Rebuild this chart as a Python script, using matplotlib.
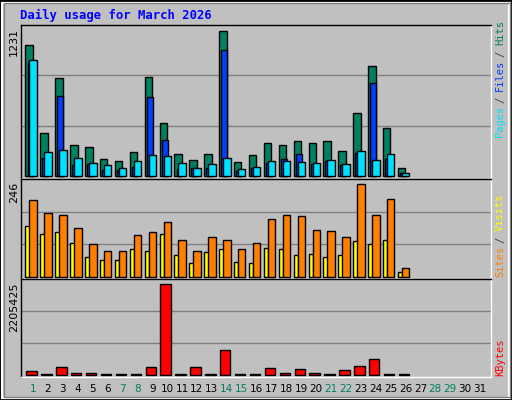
import matplotlib
matplotlib.use("Agg")
import matplotlib.pyplot as plt
from matplotlib.patches import Rectangle
import numpy as np

title = "Daily usage for March 2026"
days = list(range(1, 32))
weekend = [1, 7, 8, 14, 15, 21, 22, 28, 29]
hits = [1109, 363, 832, 263, 246, 146, 129, 204, 841, 447, 188, 137, 188, 1231, 121, 179, 280, 263, 296, 280, 296, 213, 539, 933, 405, 70]
files = [966, 154, 682, 95, 98, 54, 54, 79, 673, 305, 62, 70, 70, 1067, 45, 70, 112, 146, 188, 104, 129, 95, 196, 790, 146, 28]
pages = [983, 204, 221, 154, 112, 95, 70, 129, 179, 171, 112, 70, 104, 154, 62, 79, 129, 129, 121, 112, 137, 104, 213, 137, 188, 28]
visits = [203, 169, 163, 129, 86, 70, 70, 110, 118, 145, 97, 70, 105, 97, 73, 89, 153, 163, 161, 123, 121, 107, 246, 163, 206, 25]
sites = [134, 113, 118, 89, 52, 46, 44, 73, 68, 113, 57, 38, 65, 73, 41, 38, 78, 73, 57, 62, 54, 57, 94, 86, 97, 14]
kbytes = [104000, 30000, 200000, 56000, 56000, 30000, 30000, 30000, 200000, 2205425, 30000, 200000, 30000, 610000, 30000, 30000, 176000, 56000, 152000, 56000, 30000, 128000, 225000, 393000, 30000, 30000]

BG = '#c0c0c0'
W, H = 512, 400
fig = plt.figure(figsize=(W/100, H/100), dpi=100, facecolor=BG)
fig.patches.append(Rectangle((0, 0), 1, 1, transform=fig.transFigure, fill=False, ec='black', lw=2))
fig.patches.append(Rectangle((2/W, 2/H), 1-5/W, 1-5/H, transform=fig.transFigure, fill=False, ec='white', lw=1.5))
fig.patches.append(Rectangle((4/W, 3/H), 1-6/W, 1-6/H, transform=fig.transFigure, fill=False, ec='#808080', lw=1))

L, R = 20.7, 490.7
bounds = [(25, 179), (179, 279), (279, 377)]
def mkax(t, b):
    ax = fig.add_axes([L/W, 1-b/H, (R-L)/W, (b-t)/H])
    ax.set_facecolor(BG)
    ax.set_xlim(0.17, 31.72)
    for s in ax.spines.values():
        s.set_color('black'); s.set_linewidth(1)
    ax.spines['right'].set_color('white'); ax.spines['bottom'].set_color('white')
    ax.set_xticks([]); ax.set_yticks([])
    return ax

d = np.arange(1, len(hits)+1)
ek = dict(edgecolor='black', linewidth=1, align='edge')

def setup(ax, vmax, topfrac):
    top = vmax/topfrac
    ax.set_ylim(-top*0.02, top)
    for f in (1/3, 2/3):
        ax.axhline(top*f, color='#808080', lw=1, zorder=0)

ax1 = mkax(*bounds[0])
setup(ax1, max(hits), 0.96)
ax1.bar(d-0.51, hits, 0.5, color='#008060', zorder=2, **ek)
ax1.bar(d-0.37, files, 0.4, color='#0040ff', zorder=3, **ek)
ax1.bar(d-0.24, pages, 0.5, color='#00e0ff', zorder=4, **ek)

ax2 = mkax(*bounds[1])
setup(ax2, max(visits), 0.95)
ax2.bar(d-0.51, sites, 0.3, color='#ffff00', zorder=2, **ek)
ax2.bar(d-0.24, visits, 0.5, color='#ff8000', zorder=3, **ek)

ax3 = mkax(*bounds[2])
setup(ax3, max(kbytes), 0.95)
ax3.bar(d-0.45, kbytes, 0.7, color='#ff0000', zorder=2, **ek)

fig.text(20/W, 1-15/H, title, color='#0000ff', family='DejaVu Sans Mono', weight='bold', fontsize=8.8, va='center', ha='left')

for val, (t, b) in zip([max(hits), max(visits), max(kbytes)], bounds):
    fig.text(14/W, 1-(t+3)/H, str(val), rotation=90, ha='center', va='top', fontsize=8, family='DejaVu Sans')

def stacked(pieces, ybot):
    cw = 5.5
    y = ybot
    for i, (txt, col) in enumerate(pieces):
        if i > 0:
            y -= cw*0.6
        fig.text(500/W, 1-y/H, txt, rotation=90, ha='center', va='bottom', color=col, fontsize=7.5, family='DejaVu Sans Mono')
        y -= cw*len(txt) + cw*0.6

stacked([("Pages", '#00e0ff'), ("/", '#404040'), ("Files", '#0040ff'), ("/", '#404040'), ("Hits", '#008060')], 137)
stacked([("Sites", '#ff8000'), ("/", '#404040'), ("Visits", '#ffff00')], 277)
stacked([("KBytes", '#ff0000')], 376)

for day in days:
    x = (33 + (day-1)*14.9)/W
    fig.text(x, 1-389/H, str(day), ha='center', va='center', fontsize=7.5,
             color='#008060' if day in weekend else 'black')

fig.savefig('out.png', dpi=100, facecolor=BG)
